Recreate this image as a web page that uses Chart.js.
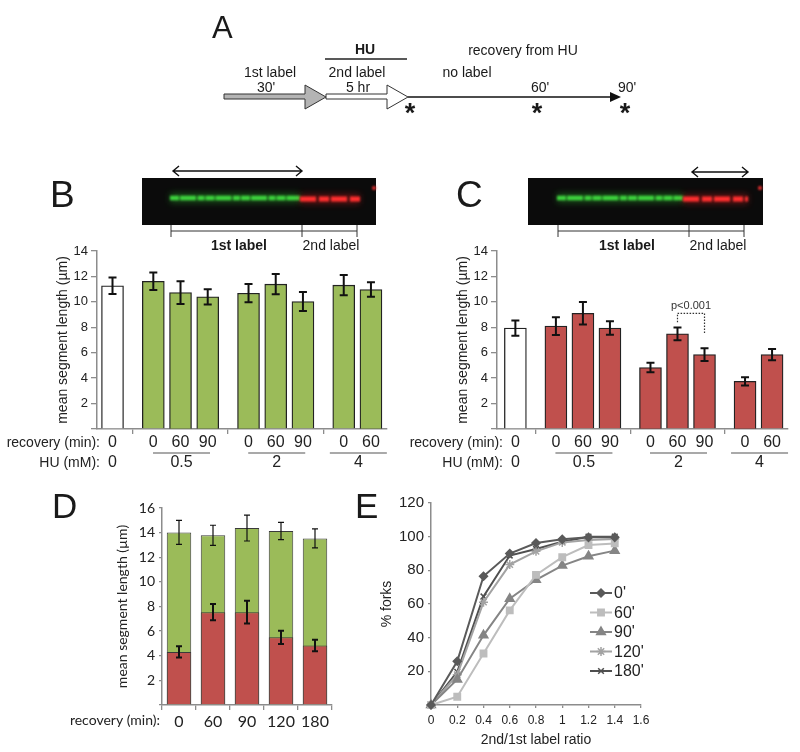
<!DOCTYPE html>
<html>
<head>
<meta charset="utf-8">
<script src="https://cdn.jsdelivr.net/npm/chart.js@4.4.1/dist/chart.umd.min.js"></script>
<style>
  body { margin: 0; background: #fff; }
  #fig { position: relative; width: 800px; height: 752px; overflow: hidden; background: #fff; }
  #fig canvas { position: absolute; }
  #art { position: absolute; left: 0; top: 0; pointer-events: none; }
</style>
</head>
<body>
<div id="fig">
  <canvas id="chartB" width="400" height="240" style="left:0;top:239px"></canvas>
  <canvas id="chartC" width="400" height="240" style="left:400px;top:239px"></canvas>
  <canvas id="chartD" width="370" height="262" style="left:0;top:490px"></canvas>
  <canvas id="chartE" width="430" height="262" style="left:370px;top:490px"></canvas>

  <svg id="art" width="800" height="752" viewBox="0 0 800 752" font-family="Liberation Sans, Arial, sans-serif" fill="#1a1a1a">
    <defs>
      <filter id="soft" filterUnits="userSpaceOnUse" x="0" y="0" width="800" height="752"><feGaussianBlur stdDeviation="1.1"/></filter>
      <filter id="glow" filterUnits="userSpaceOnUse" x="0" y="0" width="800" height="752"><feGaussianBlur stdDeviation="3"/></filter>
    </defs>

    <!-- panel letters -->
    <g font-size="37">
      <text x="212" y="38" font-size="31">A</text>
      <text x="50" y="207">B</text>
      <text x="456" y="207">C</text>
      <text x="52" y="518" font-size="35">D</text>
      <text x="355" y="518" font-size="35">E</text>
    </g>

    <!-- A: labelling scheme -->
    <polygon points="224,94 305,94 305,85 326,97 305,109 305,99 224,99" fill="#b4b4b4" stroke="#333" stroke-width="1"/>
    <polygon points="326,94 387,94 387,85 408,97 387,109 387,99 326,99" fill="#fff" stroke="#333" stroke-width="1"/>
    <line x1="408" y1="97" x2="612" y2="97" stroke="#111" stroke-width="1.5"/>
    <polygon points="610,92 621,97 610,102" fill="#111"/>
    <line x1="325" y1="59" x2="407" y2="59" stroke="#222" stroke-width="1.5"/>
    <g font-size="14" text-anchor="middle" dominant-baseline="central">
      <text x="365" y="49" font-weight="bold">HU</text>
      <text x="523" y="50">recovery from HU</text>
      <text x="270" y="72">1st label</text>
      <text x="266" y="87">30'</text>
      <text x="357" y="72">2nd label</text>
      <text x="358" y="87">5 hr</text>
      <text x="467" y="72">no label</text>
      <text x="540" y="87">60'</text>
      <text x="627" y="87">90'</text>
    </g>
    <g font-size="27" font-weight="bold" text-anchor="middle">
      <text x="410" y="122">*</text>
      <text x="537" y="122">*</text>
      <text x="625" y="122">*</text>
    </g>

    <!-- B: fibre image -->
    <rect x="142" y="178" width="234" height="47" fill="#0b0b0b"/>
    <line x1="170" y1="198" x2="300" y2="198" stroke="#2fbf2f" stroke-width="10" opacity="0.35" filter="url(#glow)"/>
    <line x1="170" y1="198" x2="300" y2="198" stroke="#3ed23e" stroke-width="4.5" stroke-dasharray="9 1 16 1.5 7 1" filter="url(#soft)"/>
    <line x1="300" y1="199" x2="360" y2="199" stroke="#e32222" stroke-width="10" opacity="0.35" filter="url(#glow)"/>
    <line x1="300" y1="199" x2="360" y2="199" stroke="#ff2e2e" stroke-width="5" stroke-dasharray="16 3 10 2" filter="url(#soft)"/>
    <circle cx="374" cy="188" r="2" fill="#f03030" filter="url(#soft)"/>
    <g stroke="#111" stroke-width="1.4" fill="none">
      <path d="M173,171 H302 M179,166 L173,171 L179,176 M296,166 L302,171 L296,176"/>
    </g>
    <g stroke="#333" stroke-width="1" fill="none">
      <path d="M171,231 H357 M171,225 V237 M302,225 V237 M357,225 V237"/>
    </g>
    <g font-size="14" text-anchor="middle" dominant-baseline="central">
      <text x="239" y="245" font-weight="bold">1st label</text>
      <text x="331" y="245">2nd label</text>
    </g>

    <!-- C: fibre image -->
    <rect x="528" y="178" width="235" height="47" fill="#0b0b0b"/>
    <line x1="557" y1="198" x2="683" y2="198" stroke="#2fbf2f" stroke-width="10" opacity="0.35" filter="url(#glow)"/>
    <line x1="557" y1="198" x2="683" y2="198" stroke="#3ed23e" stroke-width="4.5" stroke-dasharray="9 1 16 1.5 7 1" filter="url(#soft)"/>
    <line x1="683" y1="199" x2="748" y2="199" stroke="#e32222" stroke-width="10" opacity="0.35" filter="url(#glow)"/>
    <line x1="683" y1="199" x2="748" y2="199" stroke="#ff2e2e" stroke-width="5" stroke-dasharray="16 3 10 2" filter="url(#soft)"/>
    <circle cx="760" cy="188" r="2" fill="#f03030" filter="url(#soft)"/>
    <g stroke="#111" stroke-width="1.4" fill="none">
      <path d="M692,172 H748 M698,167 L692,172 L698,177 M742,167 L748,172 L742,177"/>
    </g>
    <g stroke="#333" stroke-width="1" fill="none">
      <path d="M558,231 H744 M558,225 V237 M689,225 V237 M744,225 V237"/>
    </g>
    <g font-size="14" text-anchor="middle" dominant-baseline="central">
      <text x="627" y="245" font-weight="bold">1st label</text>
      <text x="718" y="245">2nd label</text>
    </g>
  </svg>
</div>

<script>
// B / C: recovery time and HU dose for each bar
const recoveryMin = ['0', '0', '60', '90', '0', '60', '90', '0', '60'];
const huMM = ['0', '0.5', '2', '4'];
const huGroupSize = [1, 3, 3, 2];

// B: 1st label (green) mean segment length, um
const firstLen = [11.26, 11.62, 10.73, 10.39, 10.68, 11.39, 10.03, 11.31, 10.97];
const firstErr = [0.65, 0.68, 0.9, 0.6, 0.72, 0.8, 0.75, 0.8, 0.57];

// C: 2nd label (red) mean segment length, um
const secondLen = [7.94, 8.09, 9.1, 7.94, 4.84, 7.49, 5.85, 3.75, 5.85];
const secondErr = [0.6, 0.7, 0.88, 0.53, 0.38, 0.5, 0.5, 0.33, 0.45];

// D: recovery after HU, both labels
const recoveryD = ['0', '60', '90', '120', '180'];
const dFirstLen = [14.02, 13.78, 14.37, 14.13, 13.53];
const dFirstErr = [0.97, 0.82, 1.05, 0.7, 0.77];
const dSecondLen = [4.31, 7.54, 7.54, 5.5, 4.83];
const dSecondErr = [0.46, 0.66, 0.93, 0.54, 0.46];

// E: cumulative % forks vs 2nd/1st label ratio
const ratio = [0, 0.2, 0.4, 0.6, 0.8, 1, 1.2, 1.4];
const forkSeries = ["0'", "60'", "90'", "120'", "180'"];
const forks0 = [0, 26, 76.5, 90, 96.2, 98.4, 99.6, 99.6];
const forks60 = [0, 4.9, 30.6, 56.2, 77.3, 87.8, 95, 96];
const forks90 = [0, 15.2, 41.4, 63.1, 74.4, 82.8, 88.4, 91.7];
const forks120 = [0, 18, 61.1, 83.4, 91.3, 96.6, 98, 98.6];
const forks180 = [0, 19.7, 64.5, 88.8, 92.7, 97, 100, 100];

const FONT = '"Liberation Sans", Arial, sans-serif';
const CAL = 'Lato, "Open Sans", sans-serif';
Chart.defaults.font.family = FONT;
Chart.defaults.color = '#222';
Chart.defaults.animation = false;

const AXIS = '#8c8c8c';

// bars sit one unit apart, half a unit extra between HU groups
function barPositions(sizes) {
  const pos = [], seps = [];
  let p = 0;
  sizes.forEach((n, g) => {
    for (let i = 0; i < n; i++) pos.push(p++);
    if (g < sizes.length - 1) { seps.push(p - 0.25); p += 0.5; }
  });
  return { pos, seps };
}

const errorBars = {
  id: 'errorBars',
  afterDatasetsDraw(chart) {
    const ctx = chart.ctx, y = chart.scales.y;
    chart.data.datasets.forEach((ds, i) => {
      if (!ds.errors) return;
      const meta = chart.getDatasetMeta(i);
      ctx.save();
      ctx.strokeStyle = ds.errorColor || '#111';
      ctx.lineWidth = ds.errorWidth || 2;
      meta.data.forEach((bar, j) => {
        const d = ds.data[j];
        const v = typeof d === 'object' ? d.y : d;
        const top = y.getPixelForValue(v + ds.errors[j]);
        const bot = y.getPixelForValue(v - ds.errors[j]);
        const c = ds.errorCap || 4;
        ctx.beginPath();
        ctx.moveTo(bar.x, top); ctx.lineTo(bar.x, bot);
        ctx.moveTo(bar.x - c, top); ctx.lineTo(bar.x + c, top);
        ctx.moveTo(bar.x - c, bot); ctx.lineTo(bar.x + c, bot);
        ctx.stroke();
      });
      ctx.restore();
    });
  }
};

// recovery / HU rows under panels B and C
const rowLabels = {
  id: 'rowLabels',
  afterDraw(chart, args, o) {
    if (!o.show) return;
    const { ctx } = chart, x = chart.scales.x;
    const { pos } = barPositions(huGroupSize);
    ctx.save();
    ctx.fillStyle = '#222';
    ctx.textBaseline = 'middle';
    ctx.font = '14px ' + FONT;
    ctx.textAlign = 'right';
    ctx.fillText('recovery (min):', o.labelRight, o.row1);
    ctx.fillText('HU (mM):', o.labelRight, o.row2);
    ctx.font = '16px ' + FONT;
    ctx.textAlign = 'center';
    recoveryMin.forEach((t, i) => ctx.fillText(t, x.getPixelForValue(pos[i]), o.row1));
    ctx.strokeStyle = AXIS;
    ctx.lineWidth = 1.5;
    let k = 0;
    huGroupSize.forEach((n, g) => {
      const a = x.getPixelForValue(pos[k]);
      const b = x.getPixelForValue(pos[k + n - 1]);
      const c = (a + b) / 2 + 1;
      if (n > 1) {
        ctx.beginPath();
        ctx.moveTo(c - 28.5, o.rule); ctx.lineTo(c + 28.5, o.rule);
        ctx.stroke();
      }
      ctx.fillText(huMM[g], n > 1 ? c : a, o.row2);
      k += n;
    });
    ctx.restore();
  }
};

// dotted significance bracket in panel C
const sigBracket = {
  id: 'sigBracket',
  afterDraw(chart, args, o) {
    if (!o.show) return;
    const { ctx } = chart, x = chart.scales.x, y = chart.scales.y;
    const { pos } = barPositions(huGroupSize);
    const xa = x.getPixelForValue(pos[o.from]), xb = x.getPixelForValue(pos[o.to]);
    const yt = y.getPixelForValue(o.top);
    ctx.save();
    ctx.strokeStyle = '#333';
    ctx.lineWidth = 1.2;
    ctx.setLineDash([1.5, 1.5]);
    ctx.beginPath();
    ctx.moveTo(xa, y.getPixelForValue(o.leftEnd)); ctx.lineTo(xa, yt);
    ctx.lineTo(xb, yt); ctx.lineTo(xb, y.getPixelForValue(o.rightEnd));
    ctx.stroke();
    ctx.setLineDash([]);
    ctx.fillStyle = '#333';
    ctx.font = '11px ' + FONT;
    ctx.textAlign = 'center';
    ctx.textBaseline = 'middle';
    ctx.fillText(o.text, (xa + xb) / 2, yt - 7);
    ctx.restore();
  }
};

function makeLengthChart(id, values, errors, colour, lay) {
  const { pos, seps } = barPositions(huGroupSize);
  return new Chart(document.getElementById(id), {
    type: 'bar',
    data: {
      datasets: [{
        data: pos.map((p, i) => ({ x: p, y: values[i] })),
        backgroundColor: values.map((v, i) => i === 0 ? '#ffffff' : colour),
        borderColor: '#222',
        borderWidth: 1.3,
        barThickness: 22,
        errors: errors,
        errorWidth: 2,
        errorCap: 4
      }]
    },
    options: {
      responsive: false,
      layout: { padding: { top: 12, right: lay.padRight, bottom: 0, left: 0 } },
      plugins: {
        legend: { display: false },
        tooltip: { enabled: false },
        rowLabels: { show: true, labelRight: lay.labelRight, row1: 204, rule: 214, row2: 224 },
        sigBracket: lay.bracket || { show: false }
      },
      scales: {
        x: {
          type: 'linear',
          min: lay.min, max: lay.max,
          offset: false,
          afterBuildTicks: s => { s.ticks = seps.map(v => ({ value: v })); },
          afterFit: s => { s.height = 50; },
          ticks: { callback: () => '', padding: 0 },
          grid: { drawOnChartArea: false, offset: false, tickLength: 5, color: AXIS, lineWidth: 1.3 },
          border: { color: AXIS, width: 1.5 }
        },
        y: {
          min: 0, max: 14,
          afterFit: s => { s.width = 97; },
          ticks: { stepSize: 2, padding: 3, font: { size: 13 }, callback: v => v === 0 ? '' : v },
          grid: { drawOnChartArea: false, tickLength: 6, color: AXIS, lineWidth: 1.3 },
          border: { color: AXIS, width: 1.5 },
          title: { display: true, text: 'mean segment length (\u00b5m)', font: { size: 14 }, padding: { top: 54.6, bottom: 0 } }
        }
      }
    },
    plugins: [errorBars, rowLabels, sigBracket]
  });
}

makeLengthChart('chartB', firstLen, firstErr, '#9bbb59', {
  min: -0.57, max: 10.09, padRight: 13, labelRight: 100
});

makeLengthChart('chartC', secondLen, secondErr, '#c0504d', {
  min: -0.68, max: 10.09, padRight: 12, labelRight: 103,
  bracket: { show: true, from: 5, to: 6, top: 9.1, leftEnd: 8.4, rightEnd: 7.5, text: 'p<0.001' }
});

// D: overlapping 1st/2nd label bars
const recoveryTitle = {
  id: 'recoveryTitle',
  afterDraw(chart, args, o) {
    if (!o.show) return;
    const ctx = chart.ctx;
    ctx.save();
    ctx.fillStyle = '#222';
    ctx.font = '14px ' + CAL;
    ctx.textAlign = 'right';
    ctx.textBaseline = 'middle';
    ctx.fillText('recovery (min):', o.right, o.y);
    ctx.restore();
  }
};

new Chart(document.getElementById('chartD'), {
  type: 'bar',
  data: {
    labels: recoveryD,
    datasets: [
      {
        label: '1st label', data: dFirstLen, backgroundColor: '#9bbb59', borderColor: '#3a3a3a', borderWidth: 1,
        errors: dFirstErr, errorWidth: 1.2, errorCap: 3, order: 2
      },
      {
        label: '2nd label', data: dSecondLen, backgroundColor: '#c0504d', borderColor: '#3a3a3a', borderWidth: 1,
        errors: dSecondErr, errorWidth: 2, errorCap: 3, order: 1
      }
    ]
  },
  options: {
    responsive: false,
    layout: { padding: { top: 18, right: 38, bottom: 0, left: 0 } },
    datasets: { bar: { grouped: false, barPercentage: 0.72, categoryPercentage: 1 } },
    plugins: {
      legend: { display: false },
      tooltip: { enabled: false },
      recoveryTitle: { show: true, right: 160, y: 230 }
    },
    scales: {
      x: {
        afterFit: s => { s.height = 47; },
        ticks: { padding: 2, font: { family: CAL, size: 16 } },
        grid: { drawOnChartArea: false, tickLength: 5, color: AXIS, lineWidth: 1.3 },
        border: { color: AXIS, width: 1.5 }
      },
      y: {
        min: 0, max: 16,
        afterFit: s => { s.width = 162; },
        ticks: { stepSize: 2, padding: 4, font: { family: CAL, size: 14 }, callback: v => v === 0 ? '' : v },
        grid: { drawOnChartArea: false, tickLength: 3, color: AXIS, lineWidth: 1.3 },
        border: { color: AXIS, width: 1.5 },
        title: { display: true, text: 'mean segment length (\u00b5m)', font: { family: CAL, size: 14 }, padding: { top: 113.6, bottom: 0 } }
      }
    }
  },
  plugins: [errorBars, recoveryTitle]
});

// E: legend drawn inside the plot area
const insideLegend = {
  id: 'insideLegend',
  afterDraw(chart, args, o) {
    if (!o.show) return;
    const ctx = chart.ctx;
    chart.data.datasets.forEach((ds, i) => {
      const y = o.top + i * o.step;
      ctx.save();
      ctx.strokeStyle = ds.borderColor;
      ctx.lineWidth = ds.borderWidth;
      ctx.beginPath();
      ctx.moveTo(o.x, y); ctx.lineTo(o.x + o.len, y);
      ctx.stroke();
      ctx.fillStyle = ds.pointBackgroundColor || ds.borderColor;
      ctx.strokeStyle = ds.pointBorderColor || ds.borderColor;
      ctx.lineWidth = ds.pointBorderWidth || 1;
      if (Chart.helpers && Chart.helpers.drawPoint) {
        Chart.helpers.drawPoint(ctx, { pointStyle: ds.pointStyle, radius: ds.pointRadius, rotation: 0, borderWidth: ctx.lineWidth }, o.x + o.len / 2, y);
      }
      ctx.fillStyle = '#222';
      ctx.font = '16px ' + FONT;
      ctx.textBaseline = 'middle';
      ctx.textAlign = 'left';
      ctx.fillText(ds.label, o.x + o.len + 2, y + 1);
      ctx.restore();
    });
  }
};

const forkValues = [forks0, forks60, forks90, forks120, forks180];
const forkColours = ['#5a5a5a', '#bdbdbd', '#858585', '#a3a3a3', '#4f4f4f'];
const forkMarkers = ['rectRot', 'rect', 'triangle', 'star', 'crossRot'];
const forkRadius = [4, 4.5, 5, 4.5, 4];

new Chart(document.getElementById('chartE'), {
  type: 'line',
  data: {
    datasets: forkSeries.map((name, i) => ({
      label: name,
      data: ratio.map((r, j) => ({ x: r, y: forkValues[i][j] })),
      borderColor: forkColours[i],
      backgroundColor: forkColours[i],
      pointBackgroundColor: forkColours[i],
      pointBorderColor: forkColours[i],
      pointBorderWidth: 1.5,
      borderWidth: 2,
      pointStyle: forkMarkers[i],
      pointRadius: forkRadius[i],
      tension: 0,
      clip: false
    }))
  },
  options: {
    responsive: false,
    layout: { padding: { top: 13, right: 159, bottom: 0, left: 0 } },
    plugins: {
      legend: { display: false },
      tooltip: { enabled: false },
      insideLegend: { show: true, x: 220, len: 22, top: 103, step: 19.5 }
    },
    scales: {
      x: {
        type: 'linear', min: 0, max: 1.6,
        afterFit: s => { s.height = 47; },
        ticks: { stepSize: 0.2, padding: 5, font: { size: 12 }, callback: v => String(Math.round(v * 10) / 10) },
        grid: { drawOnChartArea: false, tickLength: 3, color: AXIS, lineWidth: 1.3 },
        border: { color: AXIS, width: 1.5 },
        title: { display: true, text: '2nd/1st label ratio', font: { size: 14 }, padding: { top: 0, bottom: 3.6 } }
      },
      y: {
        min: 0, max: 120,
        afterFit: s => { s.width = 61; },
        ticks: { stepSize: 20, padding: 4, font: { size: 15 }, callback: v => v === 0 ? '' : v },
        grid: { drawOnChartArea: false, tickLength: 3, color: AXIS, lineWidth: 1.3 },
        border: { color: AXIS, width: 1.5 },
        title: { display: true, text: '% forks', font: { size: 14 }, padding: { top: 8.6, bottom: 0 } }
      }
    }
  },
  plugins: [insideLegend]
});
</script>
</body>
</html>
